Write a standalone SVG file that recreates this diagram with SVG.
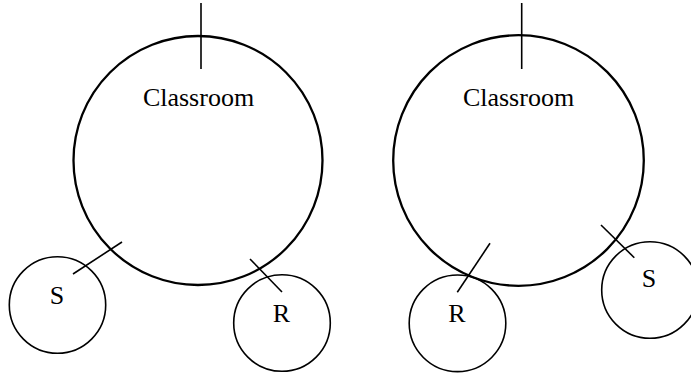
<svg xmlns="http://www.w3.org/2000/svg" width="691" height="375" viewBox="0 0 691 375">
<style>
.big{fill:none;stroke:#000;stroke-width:2.3}
.small{fill:none;stroke:#000;stroke-width:1.6}
.ln{stroke:#000;stroke-width:1.6;fill:none}
text{font-family:"Liberation Serif","Times New Roman",serif;fill:#000;text-anchor:middle}
.lbl{font-size:26px}
.sm{font-size:26px}
</style>
<rect width="691" height="375" fill="#fff"/>
<g id="classroom-left">
<circle class="big" cx="198" cy="160.5" r="124.5"/>
<text class="lbl" x="198.5" y="106">Classroom</text>
</g>
<g id="s-left">
<circle class="small" cx="57.5" cy="305" r="48.2"/>
<text class="sm" x="57" y="304">S</text>
</g>
<g id="r-left">
<circle class="small" cx="282" cy="323" r="48.3"/>
<text class="sm" x="281.5" y="322">R</text>
</g>
<g id="classroom-right">
<circle class="big" cx="518.5" cy="160.5" r="125.3"/>
<text class="lbl" x="518.5" y="106">Classroom</text>
</g>
<g id="r-right">
<circle class="small" cx="457.5" cy="323.3" r="48.3"/>
<text class="sm" x="457" y="322">R</text>
</g>
<g id="s-right">
<circle class="small" cx="650" cy="290" r="48.3"/>
<text class="sm" x="649" y="287">S</text>
</g>
<g id="connectors">
<line class="ln" x1="201" y1="3" x2="201" y2="69"/>
<line class="ln" x1="73" y1="274" x2="122" y2="242"/>
<line class="ln" x1="250" y1="259" x2="282" y2="292"/>
<line class="ln" x1="521.7" y1="3" x2="521.7" y2="69"/>
<line class="ln" x1="457.3" y1="292.3" x2="490" y2="243.3"/>
<line class="ln" x1="601" y1="225" x2="634.3" y2="257.7"/>
</g>
</svg>
